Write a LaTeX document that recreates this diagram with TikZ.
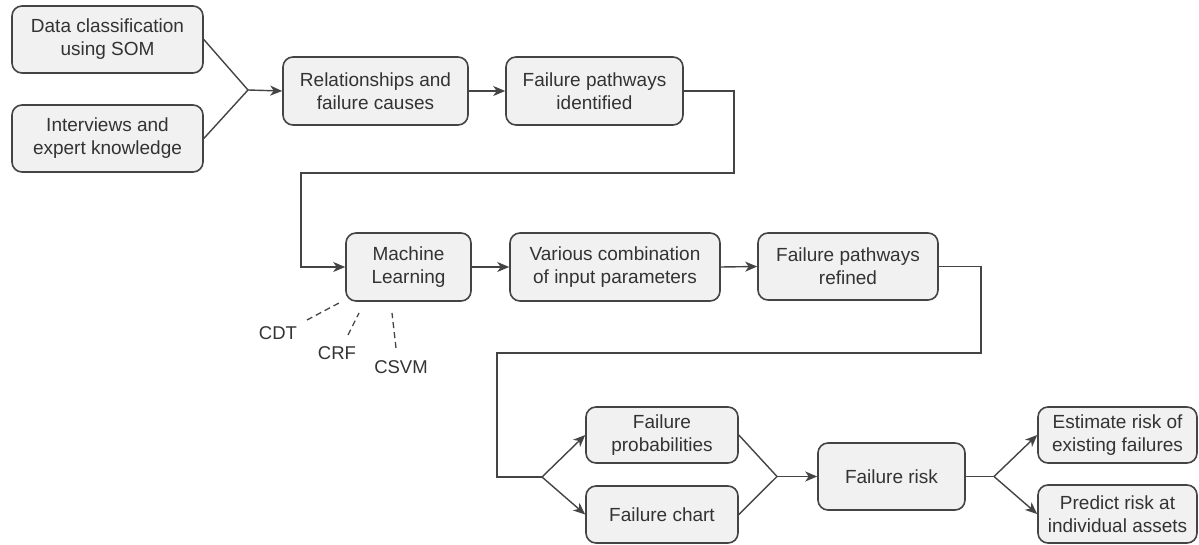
\documentclass[tikz,border=0pt]{standalone}
\usepackage{fontspec}
\setmainfont{Liberation Sans}
\usetikzlibrary{arrows.meta}
\definecolor{boxfill}{HTML}{F1F1F1}
\definecolor{boxline}{HTML}{444444}
\definecolor{txt}{HTML}{333333}
\begin{document}
\begin{tikzpicture}[x=1pt,y=-1pt,
  box/.style={draw=boxline, fill=boxfill, line width=1.6pt, rounded corners=10pt,
    align=center, inner sep=0pt, text=txt, font=\fontsize{19}{23}\selectfont},
  conn/.style={draw=boxline, line width=1.4pt},
  arr/.style={conn, -{Stealth[length=12pt,width=10pt,inset=3.5pt]}},
  dline/.style={draw=boxline, line width=1.3pt, dash pattern=on 6pt off 4pt},
  lab/.style={text=txt, inner sep=0pt, font=\fontsize{18.5}{22}\selectfont}]
\fill[white] (0,0) rectangle (1199,545);
\useasboundingbox (0,0) rectangle (1199,545);

\node[box, minimum width=191pt, minimum height=67pt] (a) at (107.5,39.5) {Data classification\\using SOM};
\node[box, minimum width=191pt, minimum height=67pt] (b) at (107.5,138.5) {Interviews and\\expert knowledge};
\node[box, minimum width=185pt, minimum height=68pt] (c) at (375.5,91) {Relationships and\\failure causes};
\node[box, minimum width=177pt, minimum height=68pt] (d) at (594.5,91) {Failure pathways\\identified};
\node[box, minimum width=125pt, minimum height=68pt] (ml) at (408.5,267) {Machine\\Learning};
\node[box, minimum width=210pt, minimum height=68pt] (v) at (615,267) {Various combination\\of input parameters};
\node[box, minimum width=180pt, minimum height=67pt] (r) at (848,266.5) {Failure pathways\\refined};
\node[box, minimum width=152pt, minimum height=56pt] (p) at (662,435) {Failure\\probabilities};
\node[box, minimum width=152pt, minimum height=57pt] (ch) at (662,514.5) {Failure chart};
\node[box, minimum width=147pt, minimum height=67pt] (fr) at (891.5,476.5) {Failure risk};
\node[box, minimum width=159pt, minimum height=56pt] (e) at (1117.5,435) {Estimate risk of\\existing failures};
\node[box, minimum width=159pt, minimum height=58pt] (pr) at (1117.5,514) {Predict risk at\\individual assets};

\node[lab] (cdt) at (278,333) {CDT};
\node[lab] (crf) at (337,353) {CRF};
\node[lab] (csvm) at (401,367) {CSVM};

\coordinate (j1) at (248,90);
\coordinate (k1) at (734,173);
\coordinate (k2) at (301,173);
\coordinate (k3) at (981,353);
\coordinate (k4) at (497,353);
\coordinate (j2) at (542,477);
\coordinate (j3) at (777,476.5);
\coordinate (j4) at (994,476.5);

\draw[conn] (a.east) -- (j1);
\draw[conn] (b.east) -- (j1);
\draw[arr] (j1) -- (c.west);
\draw[arr] (c.east) -- (d.west);
\draw[arr] (d.east) -| (k1) -- (k2) |- (ml.west);
\draw[arr] (ml.east) -- (v.west);
\draw[arr] (v.east) -- (r.west);
\draw[conn] (r.east) -| (k3) -- (k4) |- (j2);
\draw[arr] (j2) -- (p.west);
\draw[arr] (j2) -- (ch.west);
\draw[conn] (p.east) -- (j3);
\draw[conn] (ch.east) -- (j3);
\draw[arr] (j3) -- (fr.west);
\draw[conn] (fr.east) -- (j4);
\draw[arr] (j4) -- (e.west);
\draw[arr] (j4) -- (pr.west);

\coordinate (d1a) at (307,320);
\coordinate (d1b) at (339,303);
\coordinate (d2a) at (348,335);
\coordinate (d2b) at (359,313);
\coordinate (d3a) at (396,348);
\coordinate (d3b) at (392,313);
\draw[dline] (d1a) -- (d1b);
\draw[dline] (d2a) -- (d2b);
\draw[dline] (d3a) -- (d3b);
\end{tikzpicture}
\end{document}
